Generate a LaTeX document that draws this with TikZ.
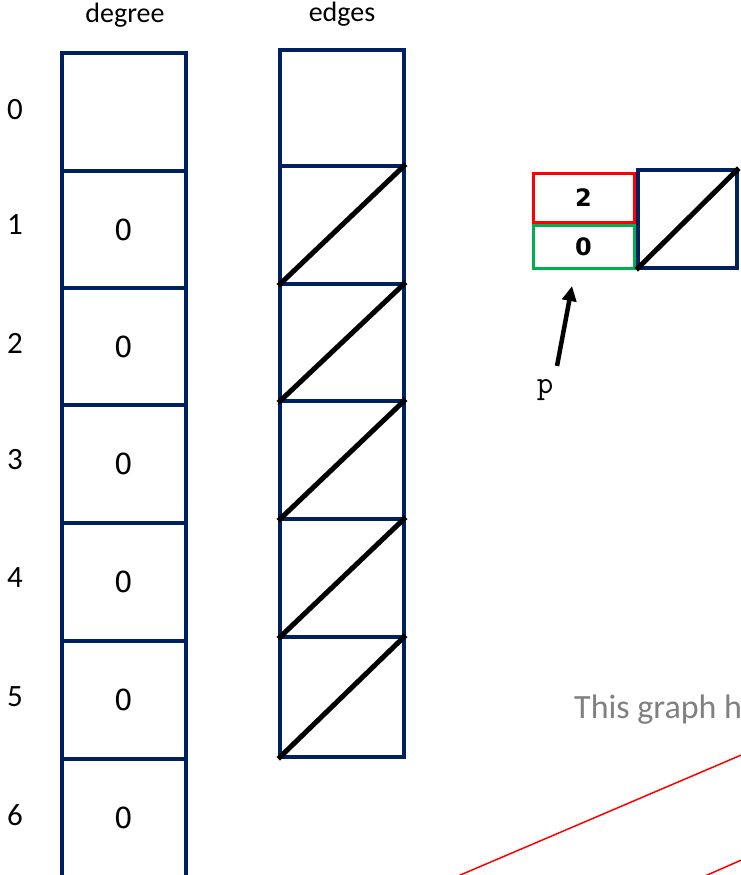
\documentclass[tikz,border=0pt]{standalone}
\usepackage{fontspec}
\setmainfont{Carlito}
\newfontfamily\cellfont{DejaVu Sans}
\usetikzlibrary{arrows.meta}
\definecolor{navy}{RGB}{0,32,96}
\definecolor{okgreen}{RGB}{0,176,80}
\definecolor{note}{RGB}{128,128,128}
\tikzset{
  cell/.style={draw=navy, line width=3.5pt, minimum width=124pt, minimum height=#1, inner sep=0pt, font=\cellfont\fontsize{29}{31}\selectfont},
  cell/.default=117.5pt,
  idx/.style={font=\fontsize{31}{33}\selectfont},
  head/.style={font=\fontsize{28}{30}\selectfont},
  nil/.style={line width=5pt, black},
  pbox/.style={draw=#1, line width=3pt, minimum width=101pt, inner sep=0pt, font=\cellfont\bfseries\fontsize{24}{26}\selectfont},
  ptr/.style={-{Triangle[length=15pt, width=14pt]}, line width=4.5pt, black},
  trace/.style={draw=red, line width=1.5pt},
}
\begin{document}
\begin{tikzpicture}[x=1pt, y=-1pt]
  \useasboundingbox (0,0) rectangle (741,875);
  % column headers
  \node[head] (hdeg) at (125,15) {degree};
  \node[head] (hedg) at (342,14) {edges};
  % degree array
  \node[cell=118pt] (deg0) at (124,112) {};
  \node[cell] (deg1) at (124,229.5) {0};
  \node[cell] (deg2) at (124,346.5) {0};
  \node[cell=118pt] (deg3) at (124,464) {0};
  \node[cell=118pt] (deg4) at (124,582) {0};
  \node[cell=118pt] (deg5) at (124,700) {0};
  \node[cell=118pt] (deg6) at (124,818) {0};
  % edges array
  \node[cell=116pt] (edg0) at (342,108) {};
  \node[cell=118pt] (edg1) at (342,225) {};
  \node[cell=117pt] (edg2) at (342,342.5) {};
  \node[cell=118pt] (edg3) at (342,460) {};
  \node[cell=118pt] (edg4) at (342,578) {};
  \node[cell=120pt] (edg5) at (342,697) {};
  \draw[nil] (edg1.south west) -- (edg1.north east);
  \draw[nil] (edg2.south west) -- (edg2.north east);
  \draw[nil] (edg3.south west) -- (edg3.north east);
  \draw[nil] (edg4.south west) -- (edg4.north east);
  \draw[nil] (edg5.south west) -- (edg5.north east);
  % vertex indices
  \node[idx] (i0) at (15,110) {0};
  \node[idx] (i1) at (15,225) {1};
  \node[idx] (i2) at (15,343) {2};
  \node[idx] (i3) at (15,460) {3};
  \node[idx] (i4) at (15,578) {4};
  \node[idx] (i5) at (15,697) {5};
  \node[idx] (i6) at (15,815) {6};
  % new edge node
  \node[pbox=red, minimum height=49pt] (pvert) at (583.5,197.5) {2};
  \node[pbox=okgreen, minimum height=43pt] (pw) at (583.5,246.5) {0};
  \node[cell=98pt, minimum width=99pt] (pnext) at (687.5,219) {};
  \draw[nil] (pnext.south west) -- (pnext.north east);
  \node[font=\ttfamily\fontsize{32}{34}\selectfont] (p) at (545,390) {p};
  \coordinate (ptail) at (557,366);
  \coordinate (ptip) at (572,286);
  \draw[ptr] (ptail) -- (ptip);
  % caption cut off at the right
  \node[anchor=west, text=note, font=\fontsize{34}{36}\selectfont, inner sep=0pt] (cap) at (574,710) {This graph h};
  \coordinate (ra) at (458,876);
  \coordinate (rb) at (746,753);
  \coordinate (rc) at (705,876);
  \coordinate (rd) at (746,858);
  \draw[trace] (ra) -- (rb);
  \draw[trace] (rc) -- (rd);
\end{tikzpicture}
\end{document}
